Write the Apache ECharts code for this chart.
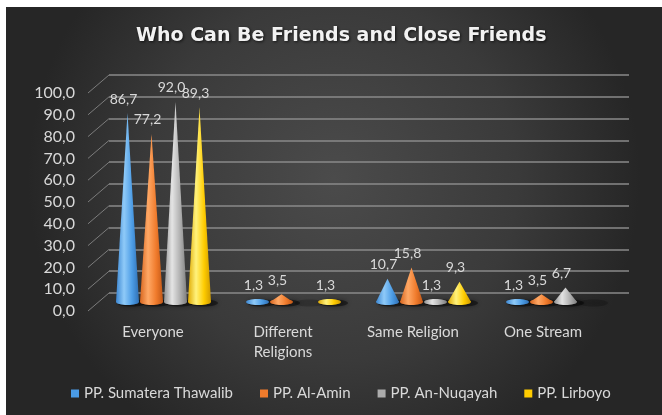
<!DOCTYPE html>
<html>
<head>
<meta charset="utf-8">
<title>Who Can Be Friends and Close Friends</title>
<script src="https://cdn.jsdelivr.net/npm/echarts@6/dist/echarts.min.js"></script>
<style>
  html, body { margin: 0; padding: 0; background: #ffffff; }
  #chart { width: 662px; height: 415px; }
</style>
</head>
<body>
<div id="chart"></div>
<script>
// ---- data ----
const categories = ['Everyone', 'Different\nReligions', 'Same Religion', 'One Stream'];
const schools = ['PP. Sumatera Thawalib', 'PP. Al-Amin', 'PP. An-Nuqayah', 'PP. Lirboyo'];
const sumateraThawalib = [86.7, 1.3, 10.7, 1.3];
const alAmin = [77.2, 3.5, 15.8, 3.5];
const anNuqayah = [92.0, null, 1.3, 6.7];
const lirboyo = [89.3, 1.3, 9.3, null];
const yTicks = [0, 10, 20, 30, 40, 50, 60, 70, 80, 90, 100];

const seriesValues = [sumateraThawalib, alAmin, anNuqayah, lirboyo];

// ---- styling ----
const FONT = 'Lato, "Open Sans", sans-serif';
const TEXT = '#d9d9d9';
const solidColors = ['#4a9be6', '#f07b2c', '#acacac', '#ffcc00'];
// shading across each cone: left edge, highlight, body, right edge
const shades = [
  ['#3b86d2', '#8fcaf8', '#4d9de6', '#2f70b5'],
  ['#d8661f', '#ffa865', '#f07b2c', '#c25817'],
  ['#929292', '#e4e4e4', '#b0b0b0', '#7e7e7e'],
  ['#e0aa00', '#fff27c', '#ffcc00', '#cf9a00']
];
const DEPTH = [21, -18];   // offset of the back wall from the front plane
const SLOT = 24;           // horizontal spacing of cones inside a category
const HALF_W = 11.5;       // half width of a cone base
const BASE_RY = 3;         // vertical radius of a cone base

const fmt = v => v.toFixed(1).replace('.', ',');

const chart = echarts.init(document.getElementById('chart'), null, { renderer: 'canvas' });

function coneSeries(k) {
  const grad = new echarts.graphic.LinearGradient(0, 0, 1, 0, [
    { offset: 0, color: shades[k][0] },
    { offset: 0.35, color: shades[k][1] },
    { offset: 0.7, color: shades[k][2] },
    { offset: 1, color: shades[k][3] }
  ]);
  return {
    type: 'custom',
    name: schools[k],
    xAxisIndex: 2,
    yAxisIndex: 2,
    itemStyle: { color: solidColors[k] },
    data: seriesValues[k].map((v, i) => [i, v == null ? '-' : v]),
    renderItem: function (params, api) {
      const idx = api.value(0);
      const v = api.value(1);
      const base = api.coord([idx, 0]);
      const cx = base[0] + (k - 1.5) * SLOT;
      const by = base[1];
      const empty = isNaN(v);
      // soft floor shadow under each slot
      const children = [{
        type: 'ellipse',
        z2: 0,
        shape: { cx: cx + 4, cy: by + 1, rx: HALF_W + 3, ry: 3.5 },
        style: {
          fill: empty ? 'rgba(0,0,0,0.2)' : 'rgba(0,0,0,0.45)',
          shadowBlur: 5,
          shadowColor: empty ? 'rgba(0,0,0,0.4)' : 'rgba(0,0,0,0.8)'
        }
      }];
      if (!empty) {
        const ty = api.coord([idx, v])[1];
        children.push({
          type: 'ellipse',
          z2: 10,
          shape: { cx: cx, cy: by, rx: HALF_W, ry: BASE_RY },
          style: { fill: grad }
        });
        children.push({
          type: 'polygon',
          z2: 11,
          shape: { points: [[cx - HALF_W, by], [cx, ty], [cx + HALF_W, by]] },
          style: { fill: grad }
        });
        children.push({
          type: 'text',
          z2: 20,
          x: cx - 4,
          y: ty - 14,
          style: {
            text: fmt(v),
            fill: TEXT,
            font: '14px ' + FONT,
            align: 'center',
            verticalAlign: 'middle',
            textAlign: 'center',
            textVerticalAlign: 'middle'
          }
        });
      }
      return { type: 'group', children: children };
    }
  };
}

const hiddenAxis = {
  axisLine: { show: false },
  axisTick: { show: false },
  axisLabel: { show: false },
  splitLine: { show: false }
};

const option = {
  animation: false,
  backgroundColor: 'transparent',
  graphic: [{
    type: 'rect',
    z: -10,
    silent: true,
    shape: { x: 6, y: 7, width: 656, height: 408 },
    style: {
      fill: new echarts.graphic.RadialGradient(0.5, 0.42, 0.75, [
        { offset: 0, color: '#4b4b4b' },
        { offset: 0.6, color: '#3a3a3a' },
        { offset: 1, color: '#262626' }
      ])
    }
  }],
  title: {
    text: 'Who Can Be Friends and Close Friends',
    left: 131,
    top: 22,
    textStyle: {
      color: '#f2f2f2',
      fontFamily: '"DejaVu Sans", sans-serif',
      fontWeight: 'bold',
      fontSize: 19,
      textShadowColor: 'rgba(0,0,0,0.7)',
      textShadowBlur: 3,
      textShadowOffsetX: 1,
      textShadowOffsetY: 1
    }
  },
  legend: {
    top: 381,
    left: 66,
    icon: 'rect',
    itemWidth: 8,
    itemHeight: 8,
    itemGap: 27,
    textStyle: { color: TEXT, fontSize: 15, fontFamily: FONT },
    data: schools.map((n, i) => ({ name: n, itemStyle: { color: solidColors[i] } }))
  },
  grid: [
    // front plane: axis labels
    { left: 88, top: 93, width: 520, height: 218 },
    // back wall: gridlines
    { left: 88 + DEPTH[0], top: 93 + DEPTH[1], width: 520, height: 218 },
    // middle depth: cones
    { left: 88 + DEPTH[0] / 2, top: 93 + DEPTH[1] / 2, width: 520, height: 218 }
  ],
  xAxis: [
    {
      gridIndex: 0, type: 'category', data: categories,
      axisLine: { show: false }, axisTick: { show: false }, splitLine: { show: false },
      axisLabel: { color: TEXT, fontSize: 15, fontFamily: FONT, lineHeight: 20, margin: 11, interval: 0 }
    },
    Object.assign({ gridIndex: 1, type: 'category', data: categories }, hiddenAxis),
    Object.assign({ gridIndex: 2, type: 'category', data: categories }, hiddenAxis)
  ],
  yAxis: [
    {
      gridIndex: 0, type: 'value', min: yTicks[0], max: yTicks[yTicks.length - 1], interval: 10,
      axisLine: { show: false }, axisTick: { show: false }, splitLine: { show: false },
      axisLabel: { color: TEXT, fontSize: 16, fontFamily: FONT, margin: 13, formatter: v => fmt(v) }
    },
    {
      gridIndex: 1, type: 'value', min: yTicks[0], max: yTicks[yTicks.length - 1], interval: 10,
      axisLine: { show: false }, axisTick: { show: false }, axisLabel: { show: false },
      splitLine: { show: true, lineStyle: { color: '#8a8a8a', width: 1.5 } }
    },
    Object.assign({ gridIndex: 2, type: 'value', min: yTicks[0], max: yTicks[yTicks.length - 1], interval: 10 }, hiddenAxis)
  ],
  series: [
    {
      // slanted connectors between the front axis and the back wall
      type: 'custom',
      xAxisIndex: 0,
      yAxisIndex: 0,
      silent: true,
      data: yTicks.map(t => [0, t]),
      renderItem: function (params, api) {
        const p = api.coord([0, api.value(1)]);
        const x0 = p[0] - api.size([1, 0])[0] / 2;
        return {
          type: 'line',
          shape: { x1: x0, y1: p[1], x2: x0 + DEPTH[0], y2: p[1] + DEPTH[1] },
          style: { stroke: '#7c7c7c', lineWidth: 1 }
        };
      }
    },
    coneSeries(0),
    coneSeries(1),
    coneSeries(2),
    coneSeries(3)
  ]
};

chart.setOption(option);
</script>
</body>
</html>
